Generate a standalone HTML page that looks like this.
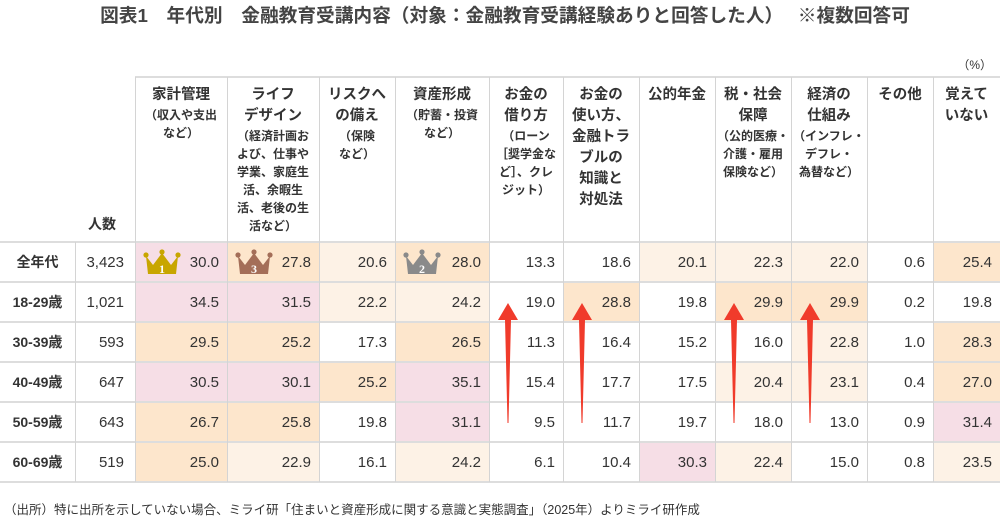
<!DOCTYPE html>
<html lang="ja"><head><meta charset="utf-8">
<style>
html,body{margin:0;padding:0;background:#fff;}
body{width:1000px;height:524px;position:relative;overflow:hidden;font-family:"Liberation Sans","Noto Sans CJK JP",sans-serif;color:#333;}
.abs{position:absolute;}
.title{left:0;width:1010px;top:1px;text-align:center;font-size:18.7px;font-weight:bold;color:#444;white-space:pre;}
.hl{background:#ddd;height:2px;}
.vl{background:#d4d4d4;width:1px;}
.cell{display:flex;align-items:center;justify-content:flex-end;box-sizing:border-box;padding-right:8px;font-size:15px;color:#333;}
.head{text-align:center;font-weight:bold;color:#333;}
.head .m{font-size:14.5px;line-height:21px;}
.head .s{font-size:12px;line-height:18px;}
.rl{display:flex;align-items:center;justify-content:center;font-weight:bold;font-size:14px;}
.note{left:4px;top:499px;font-size:12.5px;color:#333;}
</style></head><body>
<div class="abs title">図表1　年代別　金融教育受講内容（対象：金融教育受講経験ありと回答した人）　 ※複数回答可</div>
<div class="abs" style="right:8px;top:56px;font-size:12px;">（%）</div>
<div class="abs" style="left:88px;top:214px;font-size:14px;font-weight:bold;">人数</div>
<div id="t"></div>
<svg class="abs" style="left:0;top:0" width="1000" height="524" id="arrows"></svg>
<div class="abs note">（出所）特に出所を示していない場合、ミライ研「住まいと資産形成に関する意識と実態調査」（2025年）よりミライ研作成</div>
<script>
const categories=["家計管理","ライフデザイン","リスクへの備え","資産形成","お金の借り方","お金の使い方","公的年金","税・社会保障","経済の仕組み","その他","覚えていない"];
const headMain=[["家計管理"],["ライフ","デザイン"],["リスクへ","の備え"],["資産形成"],["お金の","借り方"],["お金の","使い方、","金融トラ","ブルの","知識と","対処法"],["公的年金"],["税・社会","保障"],["経済の","仕組み"],["その他"],["覚えて","いない"]];
const headSub=[["（収入や支出","など）"],["（経済計画お","よび、仕事や","学業、家庭生","活、余暇生","活、老後の生","活など）"],["（保険","など）"],["（貯蓄・投資","など）"],["（ローン","［奨学金な","ど］、クレ","ジット）"],[],[],["（公的医療・","介護・雇用","保険など）"],["（インフレ・","デフレ・","為替など）"],[],[]];
const rowLabels=["全年代","18-29歳","30-39歳","40-49歳","50-59歳","60-69歳"];
const counts=["3,423","1,021","593","647","643","519"];
const rowAll=[30.0,27.8,20.6,28.0,13.3,18.6,20.1,22.3,22.0,0.6,25.4];
const row18=[34.5,31.5,22.2,24.2,19.0,28.8,19.8,29.9,29.9,0.2,19.8];
const row30=[29.5,25.2,17.3,26.5,11.3,16.4,15.2,16.0,22.8,1.0,28.3];
const row40=[30.5,30.1,25.2,35.1,15.4,17.7,17.5,20.4,23.1,0.4,27.0];
const row50=[26.7,25.8,19.8,31.1,9.5,11.7,19.7,18.0,13.0,0.9,31.4];
const row60=[25.0,22.9,16.1,24.2,6.1,10.4,30.3,22.4,15.0,0.8,23.5];
const rankCol=[0,3,1];
const arrowCols=[4,5,7,8];

const rows=[rowAll,row18,row30,row40,row50,row60];
const colX=[135,227,319,395,489,563,639,715,791,867,933,1000];
const rowY=[242,282,322,362,402,442,482];
const t=document.getElementById('t');
function div(cls,st,html){const d=document.createElement('div');d.className='abs '+cls;Object.assign(d.style,st);if(html!=null)d.innerHTML=html;t.appendChild(d);return d;}
function bg(v){return v>=30?'#f6dee6':v>=25?'#fde6cc':v>=20?'#fdf2e6':'#fff';}
rows.forEach((r,i)=>{
  r.forEach((v,j)=>{
    const c=div('cell',{left:colX[j]+'px',top:rowY[i]+'px',width:(colX[j+1]-colX[j])+'px',height:(rowY[i+1]-rowY[i])+'px',background:bg(v)},v.toFixed(1));
    
    
  });
  const l=div('rl',{left:'0px',top:rowY[i]+'px',width:'75px',height:'40px'},rowLabels[i]);
  
  
  const n=div('cell',{left:'75px',top:rowY[i]+'px',width:'60px',height:'40px',paddingRight:'11px'},counts[i]);
  
  
});
headMain.forEach((m,j)=>{
  let h='<div class="m">'+m.join('<br>')+'</div>';
  if(headSub[j].length)h+='<div class="s">'+headSub[j].join('<br>')+'</div>';
  const d=div('head',{left:colX[j]+'px',top:'85px',width:(colX[j+1]-colX[j])+'px'},h);
  
  
});
div('hl',{left:'135px',top:'76px',width:'865px'});
rowY.forEach(y=>{const h=div('hl',{left:'0px',top:(y-1)+'px',width:'1000px'});});
colX.slice(0,-1).forEach(x=>{const v=div('vl',{left:x+'px',top:'77px',height:'405px'});});
div('vl',{left:'75px',top:'242px',height:'240px'});
const crownColors=['#c8a600','#8a8a8a','#a46e58'];
const svgNS='http://www.w3.org/2000/svg';
rankCol.forEach((cj,k)=>{
  const s=document.createElementNS(svgNS,'svg');
  s.setAttribute('width','38');s.setAttribute('height','28');
  s.setAttribute('style','position:absolute;left:'+(colX[cj]+8)+'px;top:248px');
  
  
  const c=crownColors[k];
  s.innerHTML='<path d="M3 8 L10 17 L19 5 L28 17 L35 8 L33 26 L5 26 Z" fill="'+c+'"/><circle cx="3" cy="7" r="2.6" fill="'+c+'"/><circle cx="19" cy="4" r="2.6" fill="'+c+'"/><circle cx="35" cy="7" r="2.6" fill="'+c+'"/><text x="19" y="25" text-anchor="middle" font-size="12" font-weight="bold" fill="#fff" font-family="Liberation Serif,serif">'+(k+1)+'</text>';
  t.appendChild(s);
});
const ag=document.getElementById('arrows');
arrowCols.forEach(j=>{
  const x=colX[j]+19;
  const p=document.createElementNS(svgNS,'path');
  p.setAttribute('d','M'+x+' 303 L'+(x+10)+' 320 L'+(x+3)+' 320 L'+(x+0.5)+' 423 L'+(x-0.5)+' 423 L'+(x-3)+' 320 L'+(x-10)+' 320 Z');
  p.setAttribute('fill','#f03b2b');
  
  
  ag.appendChild(p);
});
</script>
</body></html>
